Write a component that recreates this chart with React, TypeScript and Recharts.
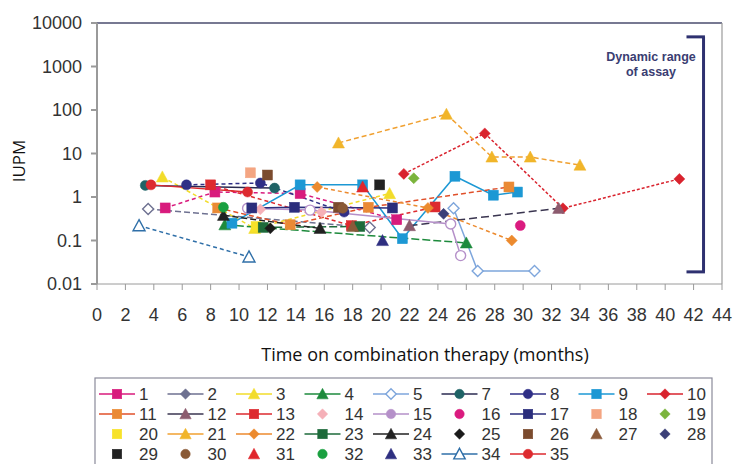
import React from 'react';
import { LineChart, Line, XAxis, YAxis, ReferenceLine } from 'recharts';

type P = { x: number; y: number };
const s1: P[] = [{ x: 4.8, y: 0.56 }, { x: 8.3, y: 1.3 }, { x: 14.3, y: 1.2 }, { x: 21.1, y: 0.3 }];
const s2: P[] = [{ x: 3.6, y: 0.53 }, { x: 19.2, y: 0.2 }];
const s3: P[] = [{ x: 4.6, y: 2.9 }, { x: 11.1, y: 0.19 }, { x: 20.6, y: 1.2 }];
const s4: P[] = [{ x: 9.0, y: 0.23 }, { x: 26.0, y: 0.088 }];
const s5: P[] = [{ x: 25.1, y: 0.55 }, { x: 26.8, y: 0.02 }, { x: 30.8, y: 0.02 }];
const s7: P[] = [{ x: 3.4, y: 1.85 }, { x: 12.5, y: 1.6 }];
const s8: P[] = [{ x: 6.3, y: 1.9 }, { x: 11.5, y: 2.1 }, { x: 17.4, y: 0.45 }];
const s9: P[] = [{ x: 9.5, y: 0.25 }, { x: 14.3, y: 1.9 }, { x: 18.7, y: 1.9 }, { x: 21.5, y: 0.11 }, { x: 25.2, y: 3.0 }, { x: 27.9, y: 1.1 }, { x: 29.6, y: 1.3 }];
const s10: P[] = [{ x: 21.6, y: 3.4 }, { x: 27.3, y: 29 }, { x: 32.8, y: 0.55 }, { x: 41.0, y: 2.6 }];
const s11: P[] = [{ x: 8.5, y: 0.56 }, { x: 13.6, y: 0.23 }, { x: 19.1, y: 0.58 }, { x: 29.0, y: 1.7 }];
const s12: P[] = [{ x: 22.0, y: 0.22 }, { x: 32.5, y: 0.55 }];
const s13: P[] = [{ x: 8.0, y: 1.9 }, { x: 17.9, y: 0.22 }, { x: 23.8, y: 0.59 }];
const s14: P[] = [{ x: 11.5, y: 0.52 }, { x: 15.8, y: 0.45 }];
const s15: P[] = [{ x: 10.6, y: 0.55 }, { x: 15.0, y: 0.5 }, { x: 24.9, y: 0.24 }, { x: 25.6, y: 0.045 }];
const s16: P[] = [{ x: 29.8, y: 0.22 }];
const s17: P[] = [{ x: 10.9, y: 0.56 }, { x: 13.9, y: 0.58 }, { x: 20.8, y: 0.56 }];
const s18: P[] = [{ x: 10.8, y: 3.6 }];
const s19: P[] = [{ x: 22.3, y: 2.7 }];
const s20: P[] = [{ x: 11.2, y: 0.21 }];
const s21: P[] = [{ x: 17.0, y: 17.5 }, { x: 24.6, y: 80 }, { x: 27.8, y: 8.3 }, { x: 30.5, y: 8.3 }, { x: 34.0, y: 5.4 }];
const s22: P[] = [{ x: 15.5, y: 1.7 }, { x: 23.3, y: 0.56 }, { x: 29.2, y: 0.1 }];
const s23: P[] = [{ x: 11.7, y: 0.2 }, { x: 18.5, y: 0.21 }];
const s24: P[] = [{ x: 8.9, y: 0.38 }, { x: 15.7, y: 0.19 }];
const s25: P[] = [{ x: 12.2, y: 0.19 }];
const s26: P[] = [{ x: 12.0, y: 3.2 }, { x: 17.0, y: 0.58 }];
const s27: P[] = [{ x: 18.0, y: 0.21 }];
const s28: P[] = [{ x: 24.4, y: 0.41 }];
const s29: P[] = [{ x: 19.9, y: 1.9 }];
const s30: P[] = [{ x: 17.3, y: 0.55 }];
const s31: P[] = [{ x: 18.7, y: 1.7 }];
const s32: P[] = [{ x: 8.9, y: 0.58 }];
const s33: P[] = [{ x: 20.1, y: 0.1 }];
const s34: P[] = [{ x: 2.96, y: 0.22 }, { x: 10.7, y: 0.042 }];
const s35: P[] = [{ x: 3.8, y: 1.9 }, { x: 10.6, y: 1.3 }];

const xTicks = [0, 2, 4, 6, 8, 10, 12, 14, 16, 18, 20, 22, 24, 26, 28, 30, 32, 34, 36, 38, 40, 42, 44];
const yTicks = [0.01, 0.1, 1, 10, 100, 1000, 10000];
const yTickLabels = ['0.01', '0.1', '1', '10', '100', '1000', '10000'];

type Shape = 'square' | 'diamond' | 'triangle' | 'circle';
type Meta = { name: string; data: P[]; color: string; shape: Shape; open?: boolean; legendOpen?: boolean; legendLine: boolean; dash?: string; lineColor?: string };

const series: Meta[] = [
  { name: '1', data: s1, color: '#d81b7d', shape: 'square', legendLine: true, dash: '4 3' },
  { name: '2', data: s2, color: '#6e7191', shape: 'diamond', legendLine: true, dash: '6 3', open: true },
  { name: '3', data: s3, color: '#f2dc2a', shape: 'triangle', legendLine: true, dash: '4 3' },
  { name: '4', data: s4, color: '#1d8a3c', shape: 'triangle', legendLine: true, dash: '8 3' },
  { name: '5', data: s5, color: '#7ea6dc', shape: 'diamond', open: true, legendOpen: true, legendLine: true },
  { name: '7', data: s7, color: '#1f6366', shape: 'circle', legendLine: true, lineColor: '#2a2a50' },
  { name: '8', data: s8, color: '#2f2f86', shape: 'circle', legendLine: true, dash: '4 3' },
  { name: '9', data: s9, color: '#1c98d4', shape: 'square', legendLine: true },
  { name: '10', data: s10, color: '#d9232e', shape: 'diamond', legendLine: true, dash: '3 2' },
  { name: '11', data: s11, color: '#ea8a35', shape: 'square', legendLine: true, dash: '5 3', lineColor: '#e0502a' },
  { name: '12', data: s12, color: '#8c5b6e', shape: 'triangle', legendLine: true, dash: '8 4', lineColor: '#3a3550' },
  { name: '13', data: s13, color: '#dd2a2f', shape: 'square', legendLine: true, dash: '4 3' },
  { name: '14', data: s14, color: '#f5b0b8', shape: 'diamond', legendLine: false },
  { name: '15', data: s15, color: '#b590c9', shape: 'circle', open: true, legendLine: true },
  { name: '16', data: s16, color: '#da1b7f', shape: 'circle', legendLine: false },
  { name: '17', data: s17, color: '#2b2e7c', shape: 'square', legendLine: true },
  { name: '18', data: s18, color: '#f4a582', shape: 'square', legendLine: false },
  { name: '19', data: s19, color: '#7bb43c', shape: 'diamond', legendLine: false },
  { name: '20', data: s20, color: '#f7e22a', shape: 'square', legendLine: false },
  { name: '21', data: s21, color: '#f1b52a', shape: 'triangle', legendLine: true, dash: '5 3', lineColor: '#f0a030' },
  { name: '22', data: s22, color: '#ec8a2e', shape: 'diamond', legendLine: true, dash: '4 3' },
  { name: '23', data: s23, color: '#1d6a3a', shape: 'square', legendLine: true, dash: '8 3' },
  { name: '24', data: s24, color: '#222222', shape: 'triangle', legendLine: true, dash: '6 3' },
  { name: '25', data: s25, color: '#1a1a1a', shape: 'diamond', legendLine: false },
  { name: '26', data: s26, color: '#7b4b2e', shape: 'square', legendLine: false },
  { name: '27', data: s27, color: '#8b5a3a', shape: 'triangle', legendLine: false },
  { name: '28', data: s28, color: '#3b3f78', shape: 'diamond', legendLine: false },
  { name: '29', data: s29, color: '#222222', shape: 'square', legendLine: false },
  { name: '30', data: s30, color: '#8a5a36', shape: 'circle', legendLine: false },
  { name: '31', data: s31, color: '#e0262c', shape: 'triangle', legendLine: false },
  { name: '32', data: s32, color: '#1aa040', shape: 'circle', legendLine: false },
  { name: '33', data: s33, color: '#2e2f80', shape: 'triangle', legendLine: false },
  { name: '34', data: s34, color: '#2f6fa8', shape: 'triangle', open: true, legendOpen: true, legendLine: true, dash: '4 3' },
  { name: '35', data: s35, color: '#dd2a2f', shape: 'circle', legendLine: true },
];

function Marker({ cx, cy, shape, color, open, s = 1 }: { cx: number; cy: number; shape: Shape; color: string; open?: boolean; s?: number }) {
  const fill = open ? '#ffffff' : color;
  const stroke = color;
  const sw = open ? 1.4 : 0.5;
  if (shape === 'square') {
    const h = 5 * s;
    return <rect x={cx - h} y={cy - h} width={2 * h} height={2 * h} fill={fill} stroke={stroke} strokeWidth={sw} />;
  }
  if (shape === 'diamond') {
    const h = 5.5 * s;
    return <polygon points={`${cx},${cy - h} ${cx + h},${cy} ${cx},${cy + h} ${cx - h},${cy}`} fill={fill} stroke={stroke} strokeWidth={sw} />;
  }
  if (shape === 'triangle') {
    const h = 6 * s;
    return <polygon points={`${cx},${cy - h} ${cx + h},${cy + h * 0.85} ${cx - h},${cy + h * 0.85}`} fill={fill} stroke={stroke} strokeWidth={sw} />;
  }
  return <circle cx={cx} cy={cy} r={5 * s} fill={fill} stroke={stroke} strokeWidth={sw} />;
}

const FONT = '"Liberation Sans", Arial, sans-serif';
const LABEL_FONT = '"Open Sans", sans-serif';

function LegendBox() {
  const colW = 68.5;
  const x0 = 117;
  const rows = [394, 414, 434, 454];
  return (
    <svg width={734} height={100} style={{ position: 'absolute', left: 0, top: 370 }}>
      <rect x={95} y={8} width={617} height={100} fill="#ffffff" stroke="#8a8a9a" strokeWidth={1.2} />
      {series.map((m, i) => {
        const col = i % 9;
        const row = Math.floor(i / 9);
        const cx = x0 + col * colW;
        const cy = rows[row] - 370;
        return (
          <g key={m.name}>
            {m.legendLine && <line x1={cx - 18} x2={cx + 18} y1={cy} y2={cy} stroke={m.lineColor ?? m.color} strokeWidth={1.5} />}
            <Marker cx={cx} cy={cy} shape={m.shape} color={m.color} open={m.legendOpen} s={0.95} />
            <text x={cx + 22} y={cy + 6} fontSize={17} fontFamily={FONT} fill="#333">{m.name}</text>
          </g>
        );
      })}
    </svg>
  );
}

export default function App() {
  return (
    <div style={{ position: 'absolute', left: 0, top: 0, width: 734, height: 464, background: '#fff', overflow: 'hidden' }}>
      <LineChart width={734} height={464} margin={{ top: 23, right: 12, left: 10, bottom: 120 }}>
        <XAxis
          type="number"
          dataKey="x"
          domain={[0, 44]}
          ticks={xTicks}
          allowDataOverflow
          interval={0}
          tickSize={6}
          tickMargin={18}
          height={60}
          stroke="#9a9a9a"
          tick={{ fill: '#333', fontSize: 18, fontFamily: FONT }}
          label={{
            content: () => (
              <text x={425} y={361} textAnchor="middle" fontSize={18} fontFamily={LABEL_FONT} fill="#111">
                Time on combination therapy (months)
              </text>
            ),
          }}
        />
        <YAxis
          type="number"
          scale="log"
          domain={[0.01, 10000]}
          ticks={yTicks}
          allowDataOverflow
          interval={0}
          width={87}
          tickSize={6}
          tickMargin={9}
          stroke="#9a9a9a"
          strokeWidth={2}
          tickFormatter={(v: number) => yTickLabels[yTicks.indexOf(v)] ?? String(v)}
          tick={{ fill: '#333', fontSize: 18, fontFamily: FONT }}
          label={{
            content: () => (
              <text x={25} y={161} transform="rotate(-90 25 161)" textAnchor="middle" fontSize={17} fontFamily={LABEL_FONT} fill="#111">
                IUPM
              </text>
            ),
          }}
        />
        <ReferenceLine y={10000} stroke="#4a4c6e" strokeWidth={1.5} />
        <ReferenceLine x={44} stroke="#9a9a9a" strokeWidth={1.2} />
        {series.map((m) => (
          <Line
            key={m.name}
            data={m.data}
            dataKey="y"
            name={m.name}
            type="linear"
            isAnimationActive={false}
            stroke={m.legendLine ? m.lineColor ?? m.color : 'none'}
            strokeWidth={1.5}
            strokeDasharray={m.dash}
            activeDot={false}
            dot={(p: any) => <Marker key={`${m.name}-${p.index}`} cx={p.cx} cy={p.cy} shape={m.shape} color={m.color} open={m.open} />}
          />
        ))}
        <ReferenceLine
          segment={[{ x: 42.7, y: 4800 }, { x: 42.7, y: 0.019 }]}
          stroke="#2e3170"
          strokeWidth={3}
          label={{
            content: () => (
              <g>
                <text x={651} y={61} textAnchor="middle" fontSize={12.5} fontWeight="bold" fontFamily={FONT} fill="#3a3d72">Dynamic range</text>
                <text x={651} y={76} textAnchor="middle" fontSize={12.5} fontWeight="bold" fontFamily={FONT} fill="#3a3d72">of assay</text>
              </g>
            ),
          }}
        />
        <ReferenceLine segment={[{ x: 41.5, y: 4800 }, { x: 42.8, y: 4800 }]} stroke="#2e3170" strokeWidth={3} />
        <ReferenceLine segment={[{ x: 41.5, y: 0.019 }, { x: 42.8, y: 0.019 }]} stroke="#2e3170" strokeWidth={3} />
      </LineChart>
      <LegendBox />
    </div>
  );
}
